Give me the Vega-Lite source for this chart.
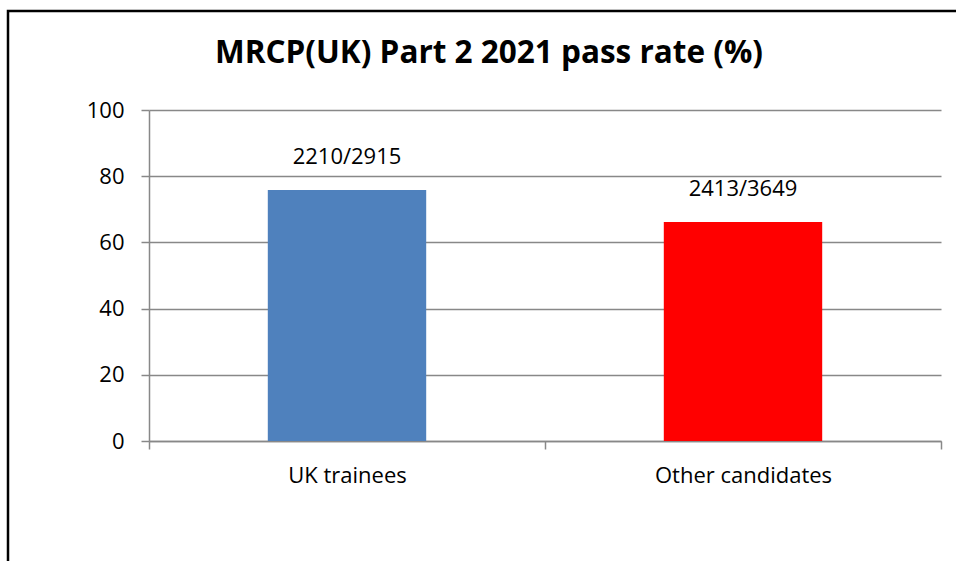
{
  "$schema": "https://vega.github.io/schema/vega-lite/v6.json",
  "width": 951,
  "height": 553,
  "autosize": "none",
  "padding": {"left": 8, "top": 11, "right": -3, "bottom": -3},
  "background": "white",
  "config": {"view": {"stroke": "black", "strokeWidth": 2.5}, "font": "Open Sans"},
  "title": {"text": "MRCP(UK) Part 2 2021 pass rate (%)", "fontSize": 31.5, "fontWeight": "bold", "font": "Open Sans", "color": "black", "anchor": "start", "frame": "group", "baseline": "alphabetic", "offset": -83, "dx": 207},
  "data": {"values": [
    {"group": "UK trainees", "rate": 75.81, "label": "2210/2915"},
    {"group": "Other candidates", "rate": 66.13, "label": "2413/3649"}
  ]},
  "encoding": {
    "x": {"field": "group", "type": "nominal", "sort": null,
      "scale": {"range": [141, 933], "paddingInner": 0, "paddingOuter": 0},
      "axis": {"title": null, "orient": "bottom", "offset": -123, "tickBand": "extent", "labelAngle": 0, "labelFontSize": 22, "labelColor": "black", "labelPadding": 16, "domainColor": "#888888", "domainWidth": 1.5, "tickColor": "#888888", "tickWidth": 1.5, "tickSize": 8, "grid": false}},
    "y": {"field": "rate", "type": "quantitative",
      "scale": {"domain": [0, 100], "range": [430, 99], "nice": false},
      "axis": {"title": null, "offset": -141, "values": [0, 20, 40, 60, 80, 100], "labelFontSize": 22, "labelColor": "black", "labelPadding": 17, "tickSize": 8, "tickColor": "#888888", "tickWidth": 1.5, "domainColor": "#888888", "domainWidth": 1.5, "grid": true, "gridColor": "#888888", "gridWidth": 1.5, "gridOpacity": 1}}
  },
  "layer": [
    {"mark": {"type": "bar", "width": {"band": 0.4}},
     "encoding": {"color": {"field": "group", "type": "nominal", "scale": {"domain": ["UK trainees", "Other candidates"], "range": ["#4F81BD", "#FF0000"]}, "legend": null}}},
    {"mark": {"type": "text", "baseline": "middle", "dy": -33, "fontSize": 22, "color": "black"},
     "encoding": {"text": {"field": "label"}}}
  ]
}
